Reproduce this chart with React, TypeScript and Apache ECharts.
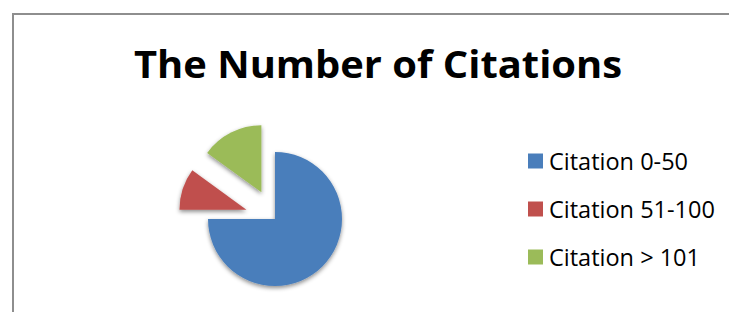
import React, { useEffect, useRef } from "react";
import * as echarts from "echarts";

const titleText = "The Number of Citations";
const categories = ["Citation 0-50", "Citation 51-100", "Citation > 101"];
const values = [75, 10, 15];
const exploded = [false, true, true];
const colors = ["#4a7ebb", "#c0504d", "#9bbb59"];

export default function App() {
  const ref = useRef<HTMLDivElement>(null);
  useEffect(() => {
    if (!ref.current) return;
    const chart = echarts.init(ref.current, null, { renderer: "svg" });
    chart.setOption({
      animation: false,
      backgroundColor: "#ffffff",
      graphic: [
        {
          type: "rect",
          shape: { x: 13, y: 14, width: 760, height: 340 },
          style: { fill: "none", stroke: "#8e8e8e", lineWidth: 2 },
          silent: true,
        },
        {
          type: "text",
          x: 378,
          y: 63,
          scaleX: 1.05,
          style: {
            text: titleText,
            fill: "#000000",
            font: "bold 38px 'Open Sans'",
            textAlign: "center",
            textVerticalAlign: "middle",
          },
        },
      ],
      legend: {
        orient: "vertical",
        left: 528,
        top: 149,
        padding: 0,
        itemWidth: 15,
        itemHeight: 15,
        itemGap: 24,
        icon: "rect",
        selectedMode: false,
        textStyle: { fontFamily: "Open Sans", fontSize: 23.5, color: "#000", lineHeight: 24, padding: [0, 0, 0, 1] },
        data: categories,
      },
      series: [
        {
          type: "pie",
          center: [275, 219],
          radius: 67,
          startAngle: 90,
          clockwise: true,
          selectedMode: "multiple",
          selectedOffset: 30,
          label: { show: false },
          labelLine: { show: false },
          emphasis: { disabled: true },
          itemStyle: {
            shadowBlur: 4,
            shadowOffsetY: 2,
            shadowColor: "rgba(0,0,0,0.45)",
          },
          data: categories.map((name, i) => ({
            name,
            value: values[i],
            selected: exploded[i],
            itemStyle: { color: colors[i] },
          })),
        },
      ],
    });
    return () => chart.dispose();
  }, []);
  return (
    <div
      ref={ref}
      style={{ position: "fixed", left: 0, top: 0, width: 729, height: 312 }}
    />
  );
}
